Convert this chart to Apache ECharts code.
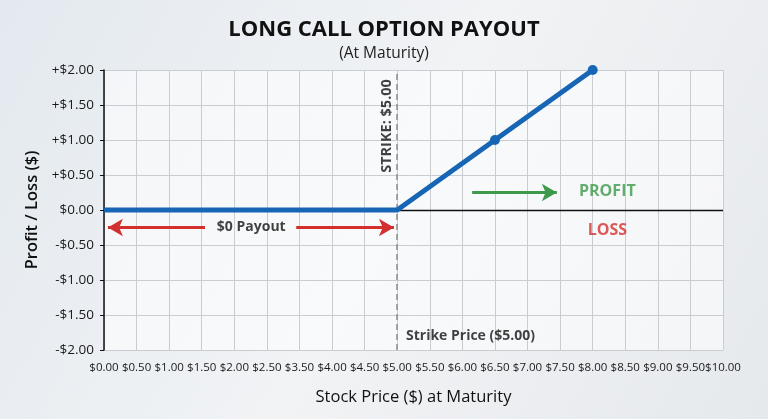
<!DOCTYPE html>
<html>
<head>
    <meta charset="utf-8" />
    <script src="https://cdn.jsdelivr.net/npm/echarts@6/dist/echarts.min.js"></script>
    <title>Long Call Option Payout</title>
    <style>
        html, body { margin: 0; padding: 0; }
        #main-chart { width: 768px; height: 419px; }
    </style>
</head>
<body>
    <div id="main-chart"></div>
    <script type="text/javascript">
        // x tick labels, evenly spaced as in the source picture ($3.00 is skipped there)
        var priceTicks = ['$0.00', '$0.50', '$1.00', '$1.50', '$2.00', '$2.50', '$3.50', '$4.00', '$4.50', '$5.00',
            '$5.50', '$6.00', '$6.50', '$7.00', '$7.50', '$8.00', '$8.50', '$9.00', '$9.50', '$10.00'];

        // payoff line (stock price -> profit/loss)
        var payoffPrice = ['$0.00', '$5.00', '$6.50', '$8.00'];
        var payoffY = [0, 0, 1, 2];
        var markerPoints = [2, 3]; // indexes that get a dot
        var strikePrice = '$5.00';

        // y axis
        var yMin = -2, yMax = 2, yStep = 0.5;

        // annotation arrows, x in tick-slot units: [xStart, xEnd, y, arrowAtStart, arrowAtEnd]
        var redArrows = [[0.12, 3.1, -0.25, true, false], [5.9, 8.9, -0.25, false, true]];
        var greenArrows = [[11.3, 13.9, 0.25, false, true]];

        // annotation texts: [x, y, text]
        var payoutText = [4.52, -0.25, '$0 Payout'];
        var profitText = [15.45, 0.27, 'PROFIT'];
        var lossText = [15.45, -0.29, 'LOSS'];
        var strikeText = [8.68, 1.2, 'STRIKE: $5.00'];
        var strikePriceText = [11.25, -1.8, 'Strike Price ($5.00)'];

        var font = 'Open Sans';
        var xMax = priceTicks.length - 1;

        function slot(label) {
            return priceTicks.indexOf(label);
        }

        function money(v) {
            var s = '$' + Math.abs(v).toFixed(2);
            if (v > 0) return '+' + s;
            if (v < 0) return '-' + s;
            return s;
        }

        function arrowLines(list) {
            return list.map(function (a) {
                return [
                    { coord: [a[0], a[2]], symbol: a[3] ? 'arrow' : 'none' },
                    { coord: [a[1], a[2]], symbol: a[4] ? 'arrow' : 'none' }
                ];
            });
        }

        function textPoint(t, color, size, rotate) {
            return {
                type: 'scatter',
                symbolSize: 0,
                silent: true,
                z: 10,
                data: [[t[0], t[1]]],
                label: {
                    show: true,
                    position: 'inside',
                    formatter: t[2],
                    color: color,
                    fontFamily: font,
                    fontWeight: 'bold',
                    fontSize: size,
                    rotate: rotate || 0
                }
            };
        }

        var chart = echarts.init(document.getElementById('main-chart'));
        var option = {
            backgroundColor: {
                type: 'linear', x: 0, y: 0, x2: 1, y2: 1,
                colorStops: [
                    { offset: 0, color: '#e3e9ef' },
                    { offset: 0.5, color: '#f1f3f5' },
                    { offset: 1, color: '#e6e9ec' }
                ]
            },
            animation: false,
            title: [
                {
                    text: 'LONG CALL OPTION PAYOUT',
                    left: 'center',
                    top: 14,
                    textStyle: { fontFamily: font, fontWeight: 'bold', fontSize: 22, color: '#111' }
                },
                {
                    text: '(At Maturity)',
                    left: 'center',
                    top: 41,
                    textStyle: { fontFamily: font, fontWeight: 'normal', fontSize: 15.5, color: '#222' }
                }
            ],
            grid: {
                left: 104,
                right: 45,
                top: 70,
                bottom: 69,
                show: true,
                borderWidth: 0,
                backgroundColor: 'rgba(255,255,255,0.55)'
            },
            xAxis: {
                type: 'value',
                min: 0,
                max: xMax,
                interval: 1,
                name: 'Stock Price ($) at Maturity',
                nameLocation: 'middle',
                nameGap: 39,
                nameTextStyle: { fontFamily: font, fontSize: 16.5, color: '#111' },
                axisLine: { show: false, onZero: false },
                axisTick: { show: false },
                axisLabel: {
                    margin: 12,
                    fontFamily: font,
                    fontSize: 11.5,
                    color: '#1a1a1a',
                    formatter: function (v) { return priceTicks[Math.round(v)]; }
                },
                splitLine: { show: true, lineStyle: { color: '#c9cdd1', width: 1 } }
            },
            yAxis: {
                type: 'value',
                min: yMin,
                max: yMax,
                interval: yStep,
                name: 'Profit / Loss ($)',
                nameLocation: 'middle',
                nameGap: 62,
                nameTextStyle: { fontFamily: font, fontSize: 16.5, fontWeight: 600, color: '#111' },
                axisLine: { show: true, onZero: false, lineStyle: { color: '#111', width: 1.5 } },
                axisTick: { show: true, length: 4, lineStyle: { color: '#111' } },
                axisLabel: {
                    margin: 10,
                    fontFamily: font,
                    fontSize: 13.5,
                    color: '#1a1a1a',
                    formatter: money
                },
                splitLine: { show: true, lineStyle: { color: '#c9cdd1', width: 1 } }
            },
            series: [
                {
                    // zero line and strike line
                    type: 'line',
                    data: [],
                    silent: true,
                    markLine: {
                        silent: true,
                        animation: false,
                        label: { show: false },
                        data: [
                            [
                                { coord: [0, 0], symbol: 'none', lineStyle: { color: '#111', width: 1.3, type: 'solid' } },
                                { coord: [xMax, 0], symbol: 'none' }
                            ],
                            [
                                { coord: [slot(strikePrice), yMin], symbol: 'none', lineStyle: { color: '#8a8a8a', width: 1.5, type: [6, 4] } },
                                { coord: [slot(strikePrice), yMax], symbol: 'none' }
                            ]
                        ]
                    }
                },
                {
                    type: 'line',
                    data: [],
                    silent: true,
                    markLine: {
                        silent: true,
                        animation: false,
                        label: { show: false },
                        symbolSize: [13, 15],
                        lineStyle: { color: '#d32f2f', width: 3, type: 'solid' },
                        data: arrowLines(redArrows)
                    }
                },
                {
                    type: 'line',
                    data: [],
                    silent: true,
                    markLine: {
                        silent: true,
                        animation: false,
                        label: { show: false },
                        symbolSize: [13, 15],
                        lineStyle: { color: '#3c9a4a', width: 3, type: 'solid' },
                        data: arrowLines(greenArrows)
                    }
                },
                {
                    name: 'Payout',
                    type: 'line',
                    z: 5,
                    symbol: 'none',
                    lineStyle: { color: '#1766b5', width: 5 },
                    itemStyle: { color: '#1766b5' },
                    data: payoffPrice.map(function (p, i) {
                        var item = { value: [slot(p), payoffY[i]] };
                        if (markerPoints.indexOf(i) >= 0) {
                            item.symbol = 'circle';
                            item.symbolSize = 10;
                        }
                        return item;
                    })
                },
                textPoint(payoutText, '#111', 14),
                textPoint(profitText, '#3c9a4a', 16),
                textPoint(lossText, '#d32f2f', 16),
                textPoint(strikeText, '#111', 14.5, 90),
                textPoint(strikePriceText, '#111', 14)
            ]
        };
        chart.setOption(option);
    </script>
</body>
</html>
